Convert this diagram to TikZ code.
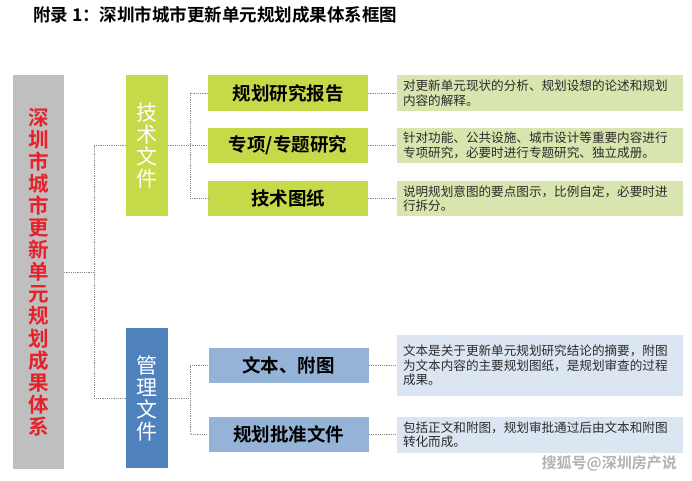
\documentclass[tikz,border=0pt]{standalone}
\usepackage{fontspec}
\setmainfont{Noto Sans CJK SC}[BoldFont={Noto Sans CJK SC Bold}]
\definecolor{rootgray}{HTML}{BFBFBF}
\definecolor{rootred}{HTML}{E8202A}
\definecolor{techgreen}{HTML}{C6D948}
\definecolor{mgmtblue}{HTML}{4F81BD}
\definecolor{lightblue}{HTML}{95B3D7}
\definecolor{descgreen}{HTML}{D9E5AE}
\definecolor{descblue}{HTML}{DCE6F2}
\definecolor{desctext}{HTML}{2B2B2B}
\definecolor{connc}{HTML}{8C8C8C}
\tikzset{
  base/.style={rectangle, inner sep=0pt, anchor=center},
  vbox/.style={base, minimum width=42pt, align=center, text=white,
    font=\fontsize{21}{22}\selectfont},
  lvl2/.style={base, minimum width=160pt, minimum height=35.5pt,
    font=\fontsize{18.5}{20}\selectfont\bfseries, text=black},
  desc/.style={base, inner xsep=6pt, text width=274pt, align=left,
    font=\fontsize{12.6}{14.5}\selectfont, text=desctext},
  conn/.style={connc, line width=0.8pt, dash pattern=on 1.2pt off 1pt}
}
\begin{document}
\begin{tikzpicture}[x=1pt, y=-1pt]
\useasboundingbox (0,0) rectangle (692,480);
% title
\node[anchor=west, inner sep=0pt, font=\fontsize{17.5}{18}\selectfont\bfseries] (title) at (33,15) {附录 1：深圳市城市更新单元规划成果体系框图};
% root
\node[base, fill=rootgray, minimum width=51pt, minimum height=394pt, text=rootred, align=center,
  font=\fontsize{20.5}{22.1}\selectfont\bfseries] (root) at (38.5,272)
  {深\\圳\\市\\城\\市\\更\\新\\单\\元\\规\\划\\成\\果\\体\\系};
% first level
\node[vbox, fill=techgreen, minimum height=141pt] (tech) at (147,145.5) {技\\术\\文\\件};
\node[vbox, fill=mgmtblue, minimum height=140pt] (mgmt) at (147,398) {管\\理\\文\\件};
% second level
\node[lvl2, fill=techgreen] (g1) at (288,93) {规划研究报告};
\node[lvl2, fill=techgreen] (g2) at (288,145.5) {专项/专题研究};
\node[lvl2, fill=techgreen] (g3) at (288,198.5) {技术图纸};
\node[lvl2, fill=lightblue] (b1) at (288.5,365.5) {文本、附图};
\node[lvl2, fill=lightblue] (b2) at (288.5,434.5) {规划批准文件};
% descriptions
\node[desc, fill=descgreen, minimum height=36pt] (d1) at (540,93) {对更新单元现状的分析、规划设想的论述和规划\\内容的解释。};
\node[desc, fill=descgreen, minimum height=35pt] (d2) at (540,145.5) {针对功能、公共设施、城市设计等重要内容进行\\专项研究，必要时进行专题研究、独立成册。};
\node[desc, fill=descgreen, minimum height=35pt] (d3) at (540,198.5) {说明规划意图的要点图示，比例自定，必要时进\\行拆分。};
\node[desc, fill=descblue, minimum height=61pt] (d4) at (540,365.5) {文本是关于更新单元规划研究结论的摘要，附图\\为文本内容的主要规划图纸，是规划审查的过程\\成果。};
\node[desc, fill=descblue, minimum height=36pt] (d5) at (540,434.5) {包括正文和附图，规划审批通过后由文本和附图\\转化而成。};
% connectors
\coordinate (j0) at (94,272);
\coordinate (j1) at (190,272);
\draw[conn] (root.east) -- (j0);
\draw[conn] (tech.west) -- (tech.west -| j0) -- (mgmt.west -| j0) -- (mgmt.west);
\draw[conn] (tech.east) -- (g2.west);
\draw[conn] (g1.west) -- (g1.west -| j1) -- (g3.west -| j1) -- (g3.west);
\draw[conn] (mgmt.east) -- (mgmt.east -| j1);
\draw[conn] (b1.west) -- (b1.west -| j1) -- (b2.west -| j1) -- (b2.west);
\draw[conn] (g1.east) -- (d1.west);
\draw[conn] (g2.east) -- (d2.west);
\draw[conn] (g3.east) -- (d3.west);
\draw[conn] (b1.east) -- (d4.west);
\draw[conn] (b2.east) -- (d5.west);
% watermark
\node[anchor=east, inner sep=0pt, text=gray!60, font=\fontsize{15}{16}\selectfont\bfseries] (wm) at (677,463) {搜狐号@深圳房产说};
\end{tikzpicture}
\end{document}
